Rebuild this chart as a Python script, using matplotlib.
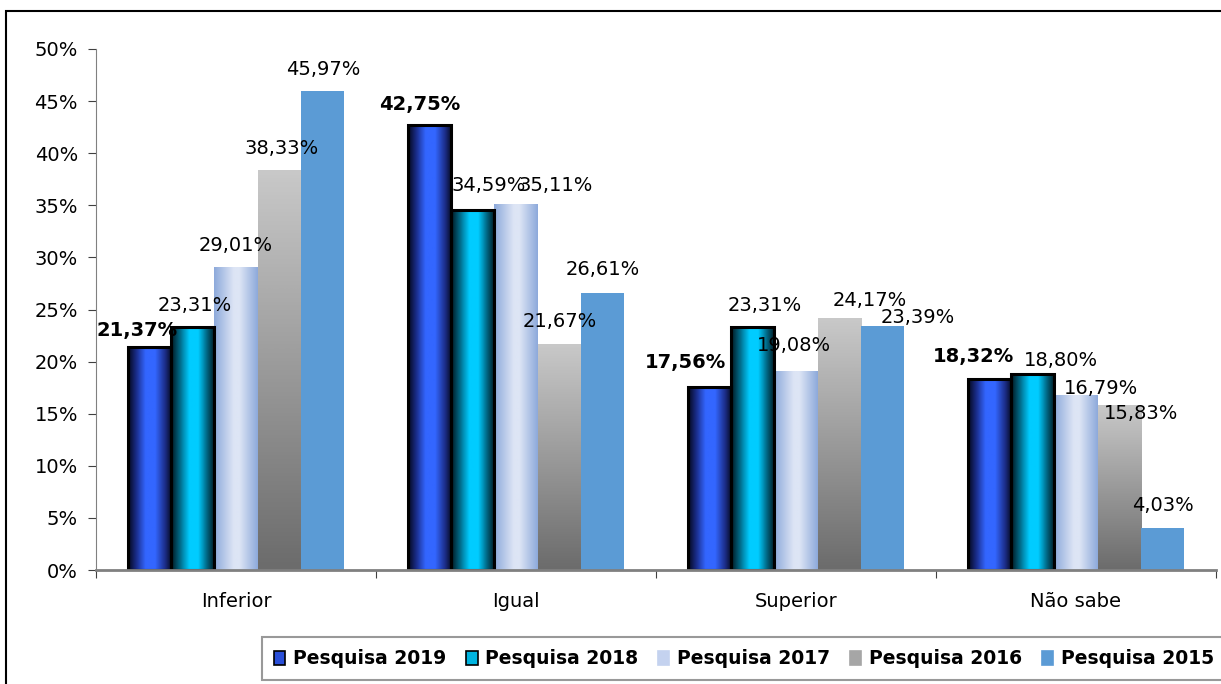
import numpy as np
import matplotlib
matplotlib.use('Agg')
import matplotlib.pyplot as plt
from matplotlib.colors import LinearSegmentedColormap
from matplotlib.patches import Rectangle, Patch

categories = ['Inferior', 'Igual', 'Superior', 'Não sabe']
series = ['Pesquisa 2019', 'Pesquisa 2018', 'Pesquisa 2017', 'Pesquisa 2016', 'Pesquisa 2015']
v2019 = [21.37, 42.75, 17.56, 18.32]
v2018 = [23.31, 34.59, 23.31, 18.80]
v2017 = [29.01, 35.11, 19.08, 16.79]
v2016 = [38.33, 21.67, 24.17, 15.83]
v2015 = [45.97, 26.61, 23.39, 4.03]
values = [v2019, v2018, v2017, v2016, v2015]
yticks = [0, 5, 10, 15, 20, 25, 30, 35, 40, 45, 50]

# label offsets in pixels (dx, dy) from bar top centre, per series / category
label_offsets = [
    [(-12, 17), (-10, 20), (-24, 25), (-16, 23)],
    [(2, 22), (16, 24), (12, 22), (28, 14)],
    [(0, 22), (40, 19), (-2, 26), (25, 7)],
    [(2, 22), (0, 23), (30, 18), (22, -8)],
    [(1, 21), (0, 23), (35, 9), (0, 23)],
]

grads = [
    ('h', ['#03081c', '#1a2c88', '#3366ff', '#3366ff', '#1c2e8a', '#050a22'], [0, 0.18, 0.4, 0.62, 0.85, 1]),
    ('h', ['#001820', '#006a88', '#00ccff', '#00ccff', '#005a74', '#001a22'], [0, 0.2, 0.42, 0.62, 0.85, 1]),
    ('h', ['#8eaadb', '#dde5f5', '#dde5f5', '#8eaadb'], [0, 0.45, 0.58, 1]),
    ('v', ['#6c6c6c', '#c8c8c8'], [0, 1]),
    (None, ['#5b9bd5'], [0]),
]
edge = ['black', 'black', 'none', 'none', 'none']
legend_colors = ['#2a4fd8', '#00b4e0', '#c4d2ef', '#a6a6a6', '#5b9bd5']

plt.rcParams['font.family'] = 'DejaVu Sans'
fig = plt.figure(figsize=(12.21, 6.84), dpi=100)
ax = fig.add_axes([96/1221, 1-570/684, 1120/1221, 521/684])

x = np.arange(len(categories))
w = 0.1547
for i, vals in enumerate(values):
    pos = x + (i - 2) * w
    kind, cols, stops = grads[i]
    if kind is None:
        bars = ax.bar(pos, vals, w, color=cols[0], zorder=2)
    else:
        bars = ax.bar(pos, vals, w, facecolor='none', edgecolor='none', zorder=3)
        cmap = LinearSegmentedColormap.from_list('g%d' % i, list(zip(stops, cols)))
        for b in bars:
            x0, y0 = b.get_x(), b.get_y()
            bw, bh = b.get_width(), b.get_height()
            if kind == 'h':
                img = np.linspace(0, 1, 64).reshape(1, -1)
            else:
                img = np.linspace(0, 1, 64).reshape(-1, 1)
            ax.imshow(img, cmap=cmap, extent=(x0, x0 + bw, y0, y0 + bh), origin='lower',
                      aspect='auto', zorder=2, interpolation='bilinear')
    if edge[i] != 'none':
        ax.bar(pos, vals, w, facecolor='none', edgecolor=edge[i], linewidth=2.2, zorder=4)
    for j, v in enumerate(vals):
        dx, dy = label_offsets[i][j]
        txt = ('%.2f%%' % v).replace('.', ',')
        ax.annotate(txt, (pos[j], v), xytext=(dx, dy), textcoords='offset pixels',
                    ha='center', va='center', fontsize=14,
                    fontweight='bold' if i == 0 else 'normal', zorder=5)

ax.set_xlim(-0.5, len(categories) - 0.5)
ax.set_ylim(0, 50)
ax.set_yticks(yticks)
ax.set_yticklabels(['%d%%' % t for t in yticks], fontsize=14)
ax.set_xticks(np.arange(len(categories) + 1) - 0.5)
ax.set_xticklabels([])
ax.set_xticks(x, minor=True)
ax.set_xticklabels(categories, minor=True, fontsize=14)
ax.tick_params(axis='x', which='minor', length=0, pad=16)
ax.tick_params(axis='x', which='major', length=6, direction='out', color='#404040')
ax.tick_params(axis='y', length=6, direction='out', color='#404040', pad=7)
for s in ['top', 'right']:
    ax.spines[s].set_visible(False)
ax.spines['left'].set_color('#808080')
ax.spines['bottom'].set_color('#808080')
ax.spines['bottom'].set_linewidth(2)
ax.spines['bottom'].set_zorder(6)

handles = [Patch(facecolor=legend_colors[i], edgecolor=edge[i] if edge[i] != 'none' else legend_colors[i],
                 linewidth=1.2) for i in range(5)]
leg = fig.legend(handles, series, loc='upper left', bbox_to_anchor=(262/1221, 1-637/684),
                 bbox_transform=fig.transFigure, ncol=5, frameon=True, fancybox=False,
                 edgecolor='#808080', prop={'weight': 'bold', 'size': 13.5}, borderaxespad=0,
                 handlelength=0.6, handleheight=0.8, handletextpad=0.42, columnspacing=1.05,
                 borderpad=0.65)
leg.get_frame().set_linewidth(1.5)

border = Rectangle((6/1221, -0.05), 1.2, 1.05 - 11/684, transform=fig.transFigure,
                   fill=False, edgecolor='black', linewidth=1.5)
fig.patches.append(border)

fig.savefig('out.png', dpi=100)
